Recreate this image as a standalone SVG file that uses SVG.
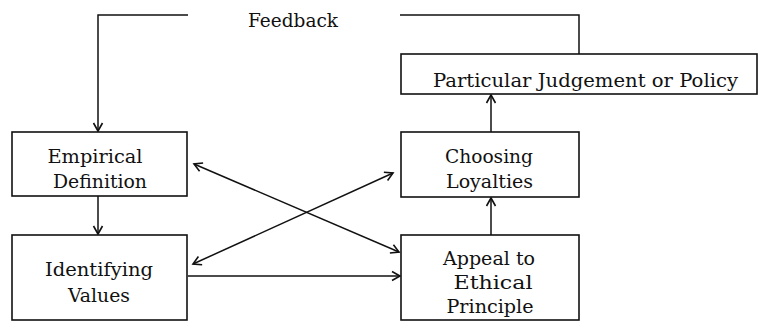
<svg xmlns="http://www.w3.org/2000/svg" width="759" height="322" viewBox="0 0 759 322">
  <style>
    .box { fill: #ffffff; stroke: #111111; stroke-width: 1.6; }
    .ln { fill: none; stroke: #111111; stroke-width: 1.5; }
    .t { font-family: "DejaVu Serif", "Liberation Serif", serif; font-size: 18px; fill: #111111; text-anchor: middle; }
  </style>
  <defs>
    <marker id="ah" markerUnits="userSpaceOnUse" viewBox="-10 -6 12 12" refX="0" refY="0" markerWidth="12" markerHeight="12" orient="auto-start-reverse">
      <path d="M-8,-4.5 L0,0 L-8,4.5" fill="none" stroke="#111111" stroke-width="1.6"/>
    </marker>
  </defs>
  <rect width="759" height="322" fill="#ffffff"/>

  <g id="connectors">
    <path class="ln" d="M579,54 L579,15 L400,15"/>
    <path class="ln" d="M188,15 L98,15 L98,131" marker-end="url(#ah)"/>
    <path class="ln" d="M98,196 L98,234" marker-end="url(#ah)"/>
    <path class="ln" d="M188,276 L400,276" marker-end="url(#ah)"/>
    <path class="ln" d="M491,235 L491,198" marker-end="url(#ah)"/>
    <path class="ln" d="M491,132 L491,95" marker-end="url(#ah)"/>
    <path class="ln" d="M194,164 L399,252" marker-start="url(#ah)" marker-end="url(#ah)"/>
    <path class="ln" d="M193,264 L393,173" marker-start="url(#ah)" marker-end="url(#ah)"/>
  </g>

  <g id="feedback-label">
    <text class="t" x="293" y="27" textLength="90" lengthAdjust="spacingAndGlyphs">Feedback</text>
  </g>

  <g id="empirical-definition">
    <rect class="box" x="12" y="132" width="175" height="64"/>
    <text class="t" x="95" y="163" textLength="95" lengthAdjust="spacingAndGlyphs">Empirical</text>
    <text class="t" x="100" y="188" textLength="94" lengthAdjust="spacingAndGlyphs">Definition</text>
  </g>

  <g id="identifying-values">
    <rect class="box" x="12" y="235" width="175" height="85"/>
    <text class="t" x="99" y="276" textLength="108" lengthAdjust="spacingAndGlyphs">Identifying</text>
    <text class="t" x="99" y="302" textLength="62" lengthAdjust="spacingAndGlyphs">Values</text>
  </g>

  <g id="particular-judgement">
    <rect class="box" x="401" y="54" width="356" height="40"/>
    <text class="t" x="585.5" y="87" textLength="305" lengthAdjust="spacingAndGlyphs">Particular Judgement or Policy</text>
  </g>

  <g id="choosing-loyalties">
    <rect class="box" x="401" y="132" width="178" height="65"/>
    <text class="t" x="489" y="163" textLength="88" lengthAdjust="spacingAndGlyphs">Choosing</text>
    <text class="t" x="489.5" y="188" textLength="87" lengthAdjust="spacingAndGlyphs">Loyalties</text>
  </g>

  <g id="appeal-ethical-principle">
    <rect class="box" x="401" y="235" width="178" height="85"/>
    <text class="t" x="489" y="265" textLength="92" lengthAdjust="spacingAndGlyphs">Appeal to</text>
    <text class="t" x="493" y="289" textLength="79" lengthAdjust="spacingAndGlyphs">Ethical</text>
    <text class="t" x="490" y="313" textLength="87" lengthAdjust="spacingAndGlyphs">Principle</text>
  </g>
</svg>
